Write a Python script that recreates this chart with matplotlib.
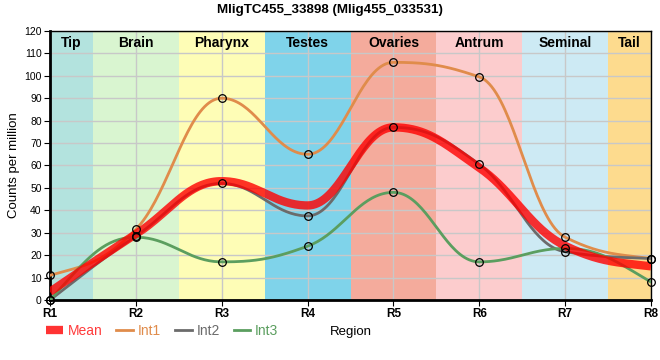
"""Expression profile across body regions for one transcript."""

import matplotlib
matplotlib.use("Agg")
import matplotlib.pyplot as plt
import numpy as np
from matplotlib.lines import Line2D

plt.rcParams["font.family"] = ["Liberation Sans", "DejaVu Sans"]

regions = ["R1", "R2", "R3", "R4", "R5", "R6", "R7", "R8"]
int1 = [11, 31.5, 90, 65, 106, 99.5, 28, 18.5]
int2 = [0, 28.5, 52, 37.5, 77, 60.5, 21.5, 18.5]
int3 = [0, 28, 17, 24, 48, 17, 23, 8]

band_names = ["Tip", "Brain", "Pharynx", "Testes", "Ovaries", "Antrum", "Seminal", "Tail"]
band_colors = ["#b3e3de", "#d9f5d0", "#fefdb6", "#7fd3ea",
               "#f4ab9c", "#fccccd", "#cdeaf4", "#fddb8e"]

series = [("Int1", int1, "#e08c4b"), ("Int2", int2, "#6b6b6b"), ("Int3", int3, "#5b9e5f")]


def monotone_curve(x, y, arm=0.4, steps=40):
    """Smooth monotone curve through the points (d3-style slopes, longer control arms)."""
    x = np.asarray(x, float)
    y = np.asarray(y, float)
    n = len(x)
    h = np.diff(x)
    s = np.diff(y) / h
    t = np.zeros(n)
    for i in range(1, n - 1):
        p = (s[i - 1] * h[i] + s[i] * h[i - 1]) / (h[i - 1] + h[i])
        t[i] = (np.sign(s[i - 1]) + np.sign(s[i])) * min(abs(s[i - 1]), abs(s[i]), 0.5 * abs(p))
    t[0] = (3 * s[0] - t[1]) / 2
    t[-1] = (3 * s[-1] - t[-2]) / 2
    xs, ys = [], []
    for i in range(n - 1):
        u = np.linspace(0, 1, steps)
        dx = h[i]
        px = [x[i], x[i] + dx * arm, x[i + 1] - dx * arm, x[i + 1]]
        py = [y[i], y[i] + dx * arm * t[i], y[i + 1] - dx * arm * t[i + 1], y[i + 1]]
        b = [(1 - u) ** 3, 3 * u * (1 - u) ** 2, 3 * u ** 2 * (1 - u), u ** 3]
        xs.append(sum(bi * pi for bi, pi in zip(b, px)))
        ys.append(sum(bi * pi for bi, pi in zip(b, py)))
    return np.concatenate(xs), np.concatenate(ys)


mean = np.mean([int1, int2, int3], axis=0)
xpos = np.arange(len(regions))

fig = plt.figure(figsize=(6.6, 3.6), dpi=100)
ax = fig.add_axes([0.0758, 0.1667, 0.9106, 0.7473])

# Region bands
for i, (name, col) in enumerate(zip(band_names, band_colors)):
    lo = max(i - 0.5, 0)
    hi = min(i + 0.5, len(regions) - 1)
    ax.axvspan(lo, hi, color=col, lw=0, zorder=0)
    ax.text((lo + hi) / 2, 114.6, name, ha="center", va="center",
            fontsize=10, fontweight="bold", zorder=5)

ax.grid(True, color="#c8c8c8", lw=1, zorder=1)
ax.set_axisbelow(True)

for name, vals, col in series:
    cx, cy = monotone_curve(xpos, vals)
    ax.plot(cx, cy, color=col, lw=2, zorder=3, solid_capstyle="round")

cx, cy = monotone_curve(xpos, mean)
ax.plot(cx, cy, color="#ff0000", lw=6, alpha=0.8, zorder=4, solid_capstyle="butt")

for name, vals, col in series:
    ax.plot(xpos, vals, ls="none", marker="o", ms=5.5, mfc="none",
            mec="black", mew=0.9, zorder=6, clip_on=False)

ax.set_xlim(0, len(regions) - 1)
ax.set_ylim(0, 120)
ax.set_xticks(xpos)
ax.set_xticklabels(regions, fontsize=8.5, fontweight="bold")
ax.set_yticks(np.arange(0, 121, 10))
ax.tick_params(axis="y", labelsize=7.5, length=4, pad=2)
ax.tick_params(axis="x", length=4, pad=2)
ax.set_ylabel("Counts per million", fontsize=9.5, labelpad=3)
ax.set_xlabel("Region", fontsize=9.5, labelpad=4)

for side in ["top", "right"]:
    ax.spines[side].set_linewidth(1)
for side in ["bottom", "left"]:
    ax.spines[side].set_linewidth(2)

fig.suptitle("MligTC455_33898 (Mlig455_033531)", fontsize=9.6, fontweight="bold", y=0.99)

handles = [Line2D([], [], color="#ff0000", lw=6, alpha=0.8, solid_capstyle="butt")]
handles += [Line2D([], [], color=col, lw=2) for _, _, col in series]
labels = ["Mean"] + [name for name, _, _ in series]
leg = fig.legend(handles, labels, loc="center left", bbox_to_anchor=(0.07, 0.081),
                 ncol=4, frameon=False, fontsize=10, handlelength=1.2,
                 handletextpad=0.35, columnspacing=1.0, borderpad=0, borderaxespad=0)
for text, col in zip(leg.get_texts(), ["#ff3b3b"] + [c for _, _, c in series]):
    text.set_color(col)

fig.savefig("out.png", dpi=100, facecolor="white")
plt.close(fig)
